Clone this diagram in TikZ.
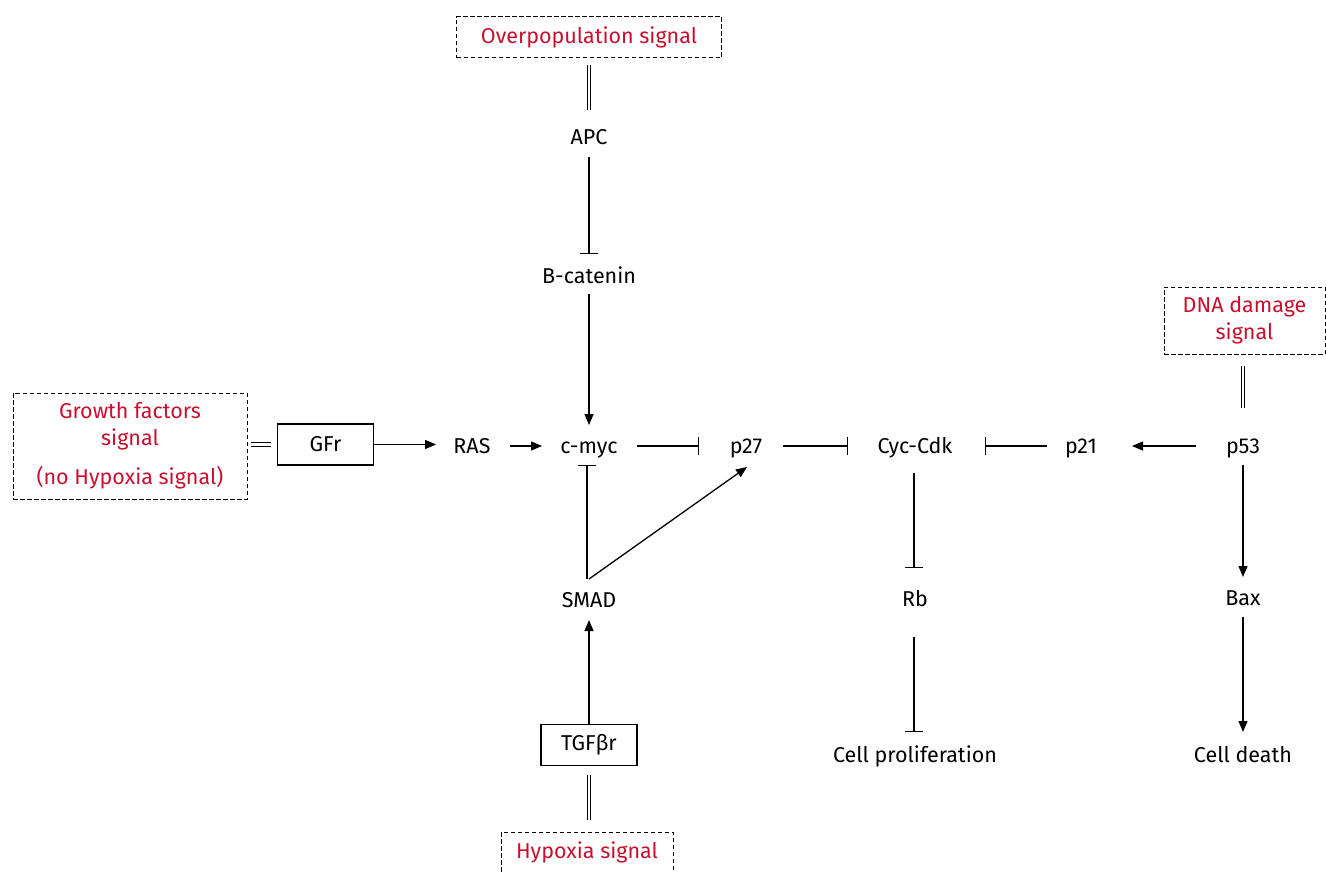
\documentclass[tikz,border=0pt]{standalone}
\usepackage{fontspec}
\setmainfont{Fira Sans}
\usetikzlibrary{arrows.meta}
\definecolor{sigred}{RGB}{200,16,46}

\begin{document}
\begin{tikzpicture}[x=1pt,y=-1pt,
  every node/.style={font=\fontsize{21.5}{27}\selectfont},
  lbl/.style={inner sep=0pt, text height=14pt, text depth=0pt, anchor=base},
  sig/.style={draw, line width=1pt, dash pattern=on 4.5pt off 2.5pt,
    text=sigred, align=center, inner sep=0pt},
  rbox/.style={draw, line width=1.1pt, minimum width=96pt, minimum height=41pt, inner sep=0pt},
  act/.style={line width=1.3pt, -{Triangle[length=11pt,width=9pt]}},
  inh/.style={line width=1.3pt, -{Bar[width=18pt]}},
  eq/.style={line width=1pt, double, double distance=2.6pt}]

\useasboundingbox (0,0) rectangle (1326,872);

% signal boxes
\node[sig, minimum width=265pt, minimum height=41pt] (over) at (589,37.5) {Overpopulation signal};
\node[sig, minimum width=234pt, minimum height=106pt] (growth) at (130,446)
  {Growth factors\\signal\\[12pt](no Hypoxia signal)};
\node[sig, minimum width=161pt, minimum height=67pt] (dna) at (1244.5,320.5) {DNA damage\\signal};
\node[sig, minimum width=172pt, minimum height=41pt] (hyp) at (587,852.5) {Hypoxia signal};

% receptors
\node[rbox] (gfr) at (325.5,444.5) {GFr};
\node[rbox] (tgf) at (589,745) {TGFβr};

% molecules
\node[lbl] (apc)   at (589,145)  {APC};
\node[lbl] (bcat)  at (589,283)  {B-catenin};
\node[lbl] (ras)   at (472,453)  {RAS};
\node[lbl] (cmyc)  at (589,453)  {c-myc};
\node[lbl] (p27)   at (746,453)  {p27};
\node[lbl] (cyc)   at (915,453)  {Cyc-Cdk};
\node[lbl] (p21)   at (1081,453) {p21};
\node[lbl] (p53)   at (1243,453) {p53};
\node[lbl] (smad)  at (589,607)  {SMAD};
\node[lbl] (rb)    at (915,606)  {Rb};
\node[lbl] (bax)   at (1243,605) {Bax};
\node[lbl] (prol)  at (915,762)  {Cell proliferation};
\node[lbl] (death) at (1243,762) {Cell death};

% signal couplings
\draw[eq, shorten <=7pt, shorten >=28pt] (over.south) -- (apc.center);
\draw[eq, shorten <=3pt, shorten >=6pt] (growth.east |- gfr.west) -- (gfr.west);
\draw[eq, shorten <=11pt, shorten >=38pt] (p53.center |- dna.south) -- (p53.center);
\draw[eq, shorten <=9pt, shorten >=12pt] (tgf.south) -- (tgf.south |- hyp.north);

% upper branch
\draw[inh, shorten <=19pt, shorten >=22pt] (apc.center) -- (bcat.center);
\draw[act, shorten <=18pt, shorten >=21pt] (bcat.center) -- (cmyc.center);

% main row
\draw[act, shorten >=36pt] (gfr.east) -- (gfr.east -| ras.center);
\draw[act, shorten <=38pt, shorten >=47pt] (ras.center) -- (cmyc.center);
\draw[inh, shorten <=48pt, shorten >=47pt] (cmyc.center) -- (p27.center);
\draw[inh, shorten <=37pt, shorten >=67pt] (p27.center) -- (cyc.center);
\draw[inh, shorten <=34pt, shorten >=70pt] (p21.center) -- (cyc.center);
\draw[act, shorten <=47pt, shorten >=51pt] (p53.center) -- (p21.center);

% TGF-beta branch
\draw[act, shorten >=20pt] (tgf.north) -- (smad.center);
\draw[inh, shorten <=21pt, shorten >=19pt] ([xshift=-2pt]smad.center) -- ([xshift=-2pt]cmyc.center);
\draw[act] ([yshift=21pt]smad.center) -- ([xshift=1pt,yshift=-21pt]p27.center);

% outcomes
\draw[inh, shorten <=27pt, shorten >=31pt] ([xshift=-1pt]cyc.center) -- ([xshift=-1pt]rb.center);
\draw[inh, shorten <=38pt, shorten >=23pt] ([xshift=-1pt]rb.center) -- ([xshift=-1pt]prol.center);
\draw[act, shorten <=19pt, shorten >=21pt] (p53.center) -- (bax.center);
\draw[act, shorten <=19pt, shorten >=23pt] (bax.center) -- (death.center);

\end{tikzpicture}
\end{document}
